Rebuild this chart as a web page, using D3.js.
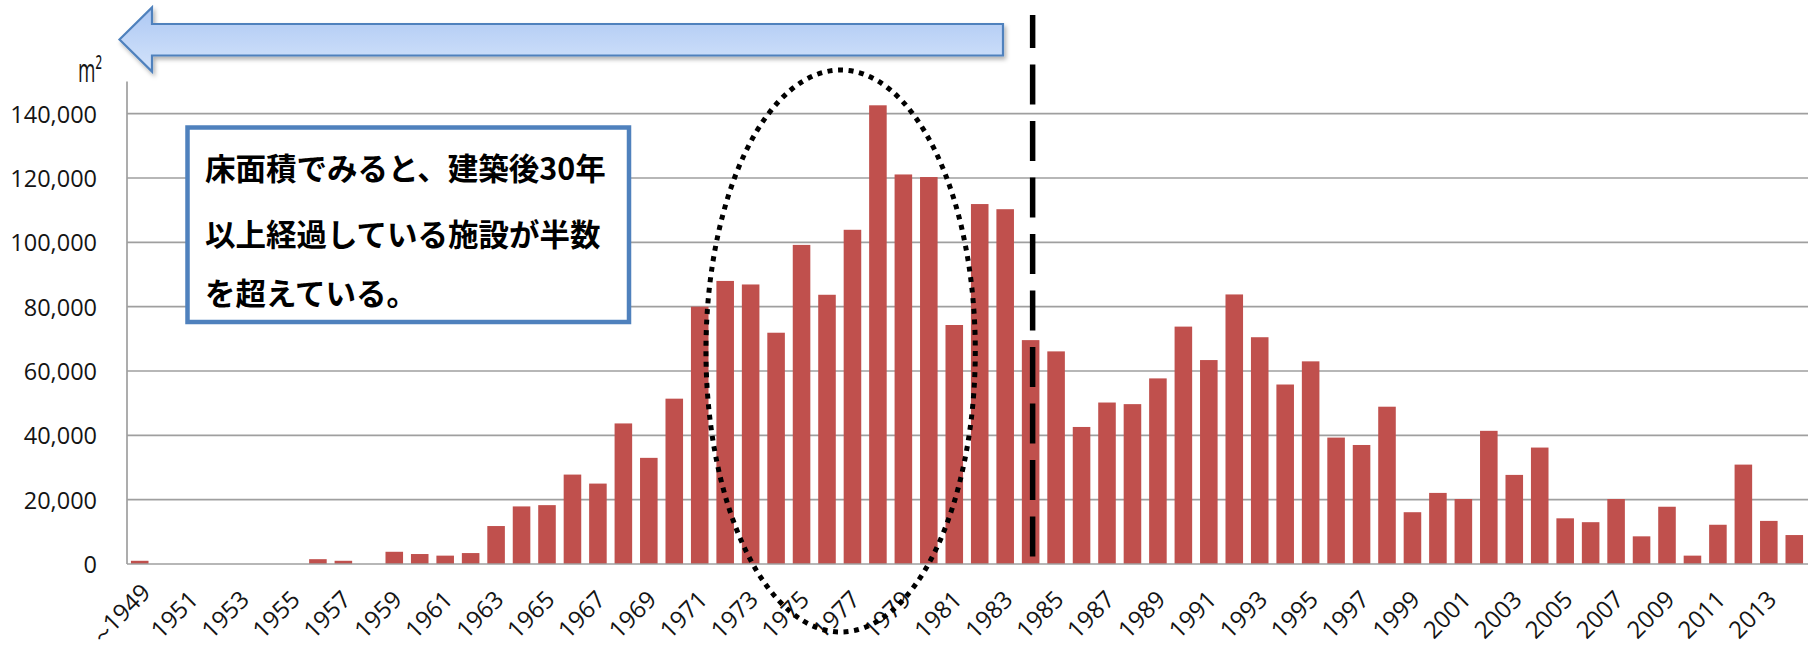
<!DOCTYPE html>
<html lang="ja">
<head>
<meta charset="utf-8">
<title>建築年別 床面積</title>
<script src="https://cdn.jsdelivr.net/npm/d3@7"></script>
<style>
  html, body { margin: 0; padding: 0; background: #ffffff; }
  svg { display: block; }
  .tick text { font-family: "Open Sans", "Noto Sans", sans-serif; fill: #141414; }
</style>
</head>
<body>
<svg id="chart" width="1816" height="651"></svg>
<script>
// Construction year categories (first bucket covers everything up to 1949)
const years = [
  "〜1949","1950","1951","1952","1953","1954","1955","1956","1957","1958",
  "1959","1960","1961","1962","1963","1964","1965","1966","1967","1968",
  "1969","1970","1971","1972","1973","1974","1975","1976","1977","1978",
  "1979","1980","1981","1982","1983","1984","1985","1986","1987","1988",
  "1989","1990","1991","1992","1993","1994","1995","1996","1997","1998",
  "1999","2000","2001","2002","2003","2004","2005","2006","2007","2008",
  "2009","2010","2011","2012","2013","2014"
];

// Floor area built in each year (m²)
const floorArea = [
  1000, 0, 0, 0, 0, 0, 0, 1500, 1000, 0,
  3800, 3100, 2600, 3400, 11800, 17900, 18300, 27800, 25000, 43700,
  33000, 51400, 80000, 88000, 86900, 71900, 99200, 83700, 103900, 142600,
  121100, 120300, 74300, 111900, 110300, 69600, 66100, 42600, 50200, 49700,
  57700, 73800, 63400, 83800, 70500, 55800, 63000, 39300, 37000, 48900,
  16100, 22100, 20200, 41400, 27700, 36200, 14200, 13000, 20200, 8600,
  17800, 2600, 12200, 30900, 13400, 9000
];

// Axis ticks
const yTicks = [0, 20000, 40000, 60000, 80000, 100000, 120000, 140000];
const xTickLabels = [
  "〜1949","1951","1953","1955","1957","1959","1961","1963","1965","1967",
  "1969","1971","1973","1975","1977","1979","1981","1983","1985","1987",
  "1989","1991","1993","1995","1997","1999","2001","2003","2005","2007",
  "2009","2011","2013"
];

// Annotation text
const unitLabel = "m²";
const noteLines = [
  "床面積でみると、建築後30年",
  "以上経過している施設が半数",
  "を超えている。"
];
const boundaryYear = "1984";   // dashed divider: 30 years before the survey
const peakGroup = ["1972", "1981"];

const svg = d3.select("#chart");
const plotLeft = 127, plotRight = 1807, plotTop = 81.5, plotBottom = 564;

const x = d3.scaleBand()
  .domain(years)
  .range([plotLeft, plotRight])
  .paddingInner(0.31)
  .paddingOuter(0.155);

const y = d3.scaleLinear()
  .domain([0, 150000])
  .range([plotBottom, plotTop]);

const defs = svg.append("defs");
const grad = defs.append("linearGradient")
  .attr("id", "arrowFill").attr("x1", 0).attr("y1", 0).attr("x2", 0).attr("y2", 1);
grad.append("stop").attr("offset", "0%").attr("stop-color", "#adc8f3");
grad.append("stop").attr("offset", "100%").attr("stop-color", "#d3e3fb");
const shadow = defs.append("filter").attr("id", "softShadow")
  .attr("x", "-10%").attr("y", "-30%").attr("width", "120%").attr("height", "180%");
shadow.append("feDropShadow")
  .attr("dx", 2).attr("dy", 3).attr("stdDeviation", 2.2)
  .attr("flood-color", "#000").attr("flood-opacity", 0.3);

// Horizontal gridlines
svg.append("g").selectAll("line")
  .data(yTicks.filter(d => d > 0))
  .join("line")
  .attr("x1", plotLeft).attr("x2", plotRight + 1)
  .attr("y1", d => y(d)).attr("y2", d => y(d))
  .attr("stroke", "#9f9f9f").attr("stroke-width", 1.7);

// Bars
svg.append("g").selectAll("rect")
  .data(years.map((c, i) => ({ c, v: floorArea[i] })))
  .join("rect")
  .attr("x", d => x(d.c))
  .attr("width", x.bandwidth())
  .attr("y", d => y(d.v))
  .attr("height", d => y(0) - y(d.v))
  .attr("fill", "#c0504d");

// Axis lines
svg.append("line")
  .attr("x1", plotLeft).attr("x2", plotLeft).attr("y1", plotTop).attr("y2", plotBottom)
  .attr("stroke", "#9f9f9f").attr("stroke-width", 1.7);
svg.append("line")
  .attr("x1", plotLeft).attr("x2", plotRight + 1).attr("y1", plotBottom).attr("y2", plotBottom)
  .attr("stroke", "#9f9f9f").attr("stroke-width", 1.7);

// Y axis labels
const yAxis = svg.append("g")
  .attr("transform", `translate(${plotLeft},0)`)
  .call(d3.axisLeft(y).tickValues(yTicks).tickFormat(d3.format(",")).tickSize(0).tickPadding(30));
yAxis.select(".domain").remove();
yAxis.selectAll("text").attr("font-size", 23.5).attr("dy", "0.36em");

// X axis labels, rotated
const xAxis = svg.append("g")
  .attr("transform", `translate(0,${plotBottom})`)
  .call(d3.axisBottom(x).tickValues(xTickLabels).tickSize(0).tickPadding(0));
xAxis.select(".domain").remove();
xAxis.selectAll("text")
  .attr("font-size", 24)
  .attr("text-anchor", "end")
  .attr("y", 0).attr("dy", "0.36em")
  .attr("transform", "translate(3,31) rotate(-45)");
// The open-ended first bucket: narrower wave dash, nudged so it stays on the canvas
xAxis.selectAll("text")
  .filter(d => d.startsWith("〜"))
  .attr("transform", "translate(6,24) rotate(-45)")
  .text(null)
  .call(t => {
    t.append("tspan").attr("font-size", 16).text(d => d.slice(0, 1));
    t.append("tspan").text(d => d.slice(1));
  });

// Unit label (m²)
svg.append("text")
  .attr("x", 102).attr("y", 82)
  .attr("text-anchor", "end")
  .attr("font-family", "'Open Sans', sans-serif")
  .attr("font-size", 32)
  .attr("textLength", 24).attr("lengthAdjust", "spacingAndGlyphs")
  .attr("fill", "#141414")
  .text(unitLabel);

// Left-pointing block arrow
const arrow = d3.path();
arrow.moveTo(119.5, 39.5);
arrow.lineTo(152, 7.5);
arrow.lineTo(152, 24);
arrow.lineTo(1003, 24);
arrow.lineTo(1003, 55.5);
arrow.lineTo(152, 55.5);
arrow.lineTo(152, 71.5);
arrow.closePath();
svg.append("path")
  .attr("d", arrow.toString())
  .attr("fill", "url(#arrowFill)")
  .attr("stroke", "#4f81bd").attr("stroke-width", 2.2)
  .attr("stroke-linejoin", "miter")
  .attr("filter", "url(#softShadow)");

// Dashed divider through the boundary year
const bx = x(boundaryYear) + x.bandwidth() / 2 + 2;
svg.append("line")
  .attr("x1", bx).attr("x2", bx).attr("y1", 15).attr("y2", plotBottom)
  .attr("stroke", "#000").attr("stroke-width", 5.5)
  .attr("stroke-dasharray", "40 16.5").attr("stroke-dashoffset", 7);

// Dotted ellipse around the peak construction period
const gapHalf = (x.step() - x.bandwidth()) / 2;
const ex0 = x(peakGroup[0]) - gapHalf * 0.2 - x.step() * 0.38;
const ex1 = x(peakGroup[1]) + x.bandwidth() + gapHalf * 0.2 + x.step() * 0.45;
svg.append("ellipse")
  .attr("cx", (ex0 + ex1) / 2).attr("cy", 351)
  .attr("rx", (ex1 - ex0) / 2).attr("ry", 281)
  .attr("fill", "none")
  .attr("stroke", "#000").attr("stroke-width", 5)
  .attr("stroke-dasharray", "5 5.6");

// Callout box
svg.append("rect")
  .attr("x", 187.5).attr("y", 127.5)
  .attr("width", 441.5).attr("height", 194.5)
  .attr("fill", "#ffffff")
  .attr("stroke", "#4f81bd").attr("stroke-width", 4.5);
const lineY = [169, 235.5, 294];
svg.append("g").selectAll("text")
  .data(noteLines)
  .join("text")
  .attr("x", 205)
  .attr("y", (d, i) => lineY[i])
  .attr("dy", "0.36em")
  .attr("font-family", "'Noto Sans CJK JP', sans-serif")
  .attr("font-weight", 700)
  .attr("font-size", 30.5)
  .attr("fill", "#000")
  .text(d => d);
</script>
</body>
</html>
